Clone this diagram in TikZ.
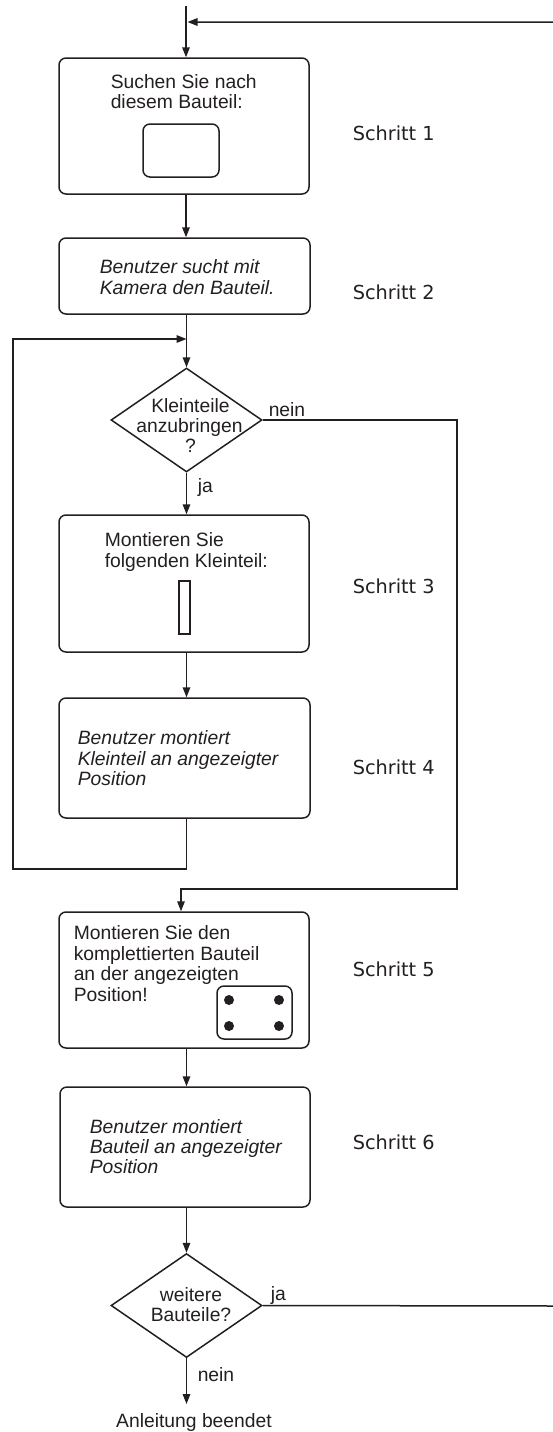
\documentclass[tikz,border=0pt]{standalone}
\usepackage{fontspec}
\setmainfont{Liberation Sans}
\newfontfamily\stepfont{DejaVu Sans}
\usetikzlibrary{arrows.meta,shapes.geometric}
\definecolor{ink}{RGB}{35,31,32}
\begin{document}
\begin{tikzpicture}[x=1pt,y=-1pt,color=ink,line width=1.5pt,
  flowbox/.style 2 args={draw,rounded corners=7pt,inner sep=0pt,
    minimum width=#1,minimum height=#2},
  decision/.style={draw,diamond,inner sep=0pt,minimum width=151pt,minimum height=104pt},
  txt/.style={font=\fontsize{19.3}{21}\selectfont,inner sep=0pt,anchor=base west},
  itxt/.style={txt,font=\fontsize{19.3}{21}\selectfont\itshape},
  ctxt/.style={txt,anchor=base},
  steplabel/.style={font=\stepfont\fontsize{19.3}{21}\selectfont,inner sep=0pt,anchor=base west},
  dot/.style={circle,fill,inner sep=0pt,minimum size=10pt},
  arr/.style={-{Triangle[length=10pt,width=7.5pt]}}]
\useasboundingbox (0,0) rectangle (552,1432);

% ---------- boxes and decisions ----------
\node[flowbox={250pt}{136pt}] (b1) at (184,126) {};
\node[flowbox={251pt}{76pt}]  (b2) at (184.5,276) {};
\node[decision] (d1) at (186.5,420) {};
\node[flowbox={250pt}{137pt}] (b3) at (184,583.5) {};
\node[flowbox={251pt}{120pt}] (b4) at (184.5,758) {};
\node[flowbox={250pt}{136pt}] (b5) at (184,980) {};
\node[flowbox={250pt}{120pt}] (b6) at (185,1147) {};
\node[decision] (d2) at (186.5,1305.5) {};

% ---------- pictograms inside the boxes ----------
\node[draw,rounded corners=7pt,inner sep=0pt,minimum width=76pt,minimum height=53pt] (s1) at (181,150.5) {};
\node[draw,line width=1.2pt,inner sep=0pt,minimum width=11pt,minimum height=53pt] (s3) at (184.5,607.5) {};
\node[draw,rounded corners=7pt,inner sep=0pt,minimum width=75pt,minimum height=53pt] (s5) at (254.5,1012.5) {};
\node[dot] (p1) at (229,1000) {};
\node[dot] (p2) at (279,1000) {};
\node[dot] (p3) at (229,1026) {};
\node[dot] (p4) at (279,1026) {};

% ---------- box texts ----------
\node[txt] (t1a) at (110,88)  {Suchen Sie nach};
\node[txt] (t1b) at (110,108) {diesem Bauteil:};
\node[itxt] (t2a) at (99,273) {Benutzer sucht mit};
\node[itxt] (t2b) at (99,294) {Kamera den Bauteil.};
\node[ctxt] (q1a) at (190.5,412) {Kleinteile};
\node[ctxt] (q1b) at (189.5,432) {anzubringen};
\node[ctxt] (q1c) at (190.5,452) {?};
\node[txt] (t3a) at (104,546) {Montieren Sie};
\node[txt] (t3b) at (104,567) {folgenden Kleinteil:};
\node[itxt] (t4a) at (77,744) {Benutzer montiert};
\node[itxt] (t4b) at (77,765) {Kleinteil an angezeigter};
\node[itxt] (t4c) at (77,785) {Position};
\node[txt] (t5a) at (73,939)  {Montieren Sie den};
\node[txt] (t5b) at (73,960)  {komplettierten Bauteil};
\node[txt] (t5c) at (73,980)  {an der angezeigten};
\node[txt] (t5d) at (73,1001) {Position!};
\node[itxt] (t6a) at (89,1133) {Benutzer montiert};
\node[itxt] (t6b) at (89,1153) {Bauteil an angezeigter};
\node[itxt] (t6c) at (89,1173) {Position};
\node[ctxt] (q2a) at (191,1301) {weitere};
\node[ctxt] (q2b) at (191,1321) {Bauteile?};
\node[ctxt] (fin) at (194,1427) {Anleitung beendet};

% ---------- step labels ----------
\node[steplabel] (st1) at (352,140) {Schritt 1};
\node[steplabel] (st2) at (352,299) {Schritt 2};
\node[steplabel] (st3) at (352,593) {Schritt 3};
\node[steplabel] (st4) at (352,774) {Schritt 4};
\node[steplabel] (st5) at (352,976) {Schritt 5};
\node[steplabel] (st6) at (352,1149) {Schritt 6};

% ---------- branch labels ----------
\node[txt] (n1) at (268,416) {nein};
\node[txt] (j1) at (197,492) {ja};
\node[txt] (j2) at (270,1300) {ja};
\node[txt] (n2) at (197,1381) {nein};

% ---------- helper points ----------
\coordinate (entry) at (186,6);
\coordinate (join) at (187.5,22);
\coordinate (lb) at (13,869);
\coordinate (lt) at (13,339);
\coordinate (rc) at (457,889);
\coordinate (m5) at (181,889);
\coordinate (rr) at (557,1306);
\coordinate (rt) at (557,22);
\coordinate (endpt) at (186.5,1404);

% ---------- connectors ----------
\draw[arr] (entry) -- (entry |- b1.north);
\draw[arr] (entry |- b1.south) -- (entry |- b2.north);
\draw[arr] (d1.north |- b2.south) -- (d1.north);
\draw[arr] (d1.south) -- (d1.south |- b3.north);
\draw[arr] (d1.south |- b3.south) -- (d1.south |- b4.north);
\draw[arr] (d1.south |- b4.south) -- (d1.south |- lb) -- (lb) -- (lt) -- (lt -| d1.north);
\draw[arr] (d1.east) -- (d1.east -| rc) -- (rc) -- (m5) -- (m5 |- b5.north);
\draw[arr] (d1.south |- b5.south) -- (d1.south |- b6.north);
\draw[arr] (d2.north |- b6.south) -- (d2.north);
\draw[arr] (d2.south) -- (endpt);
\draw[arr] (d2.east) -- (rr) -- (rt) -- (join);
\end{tikzpicture}
\end{document}
